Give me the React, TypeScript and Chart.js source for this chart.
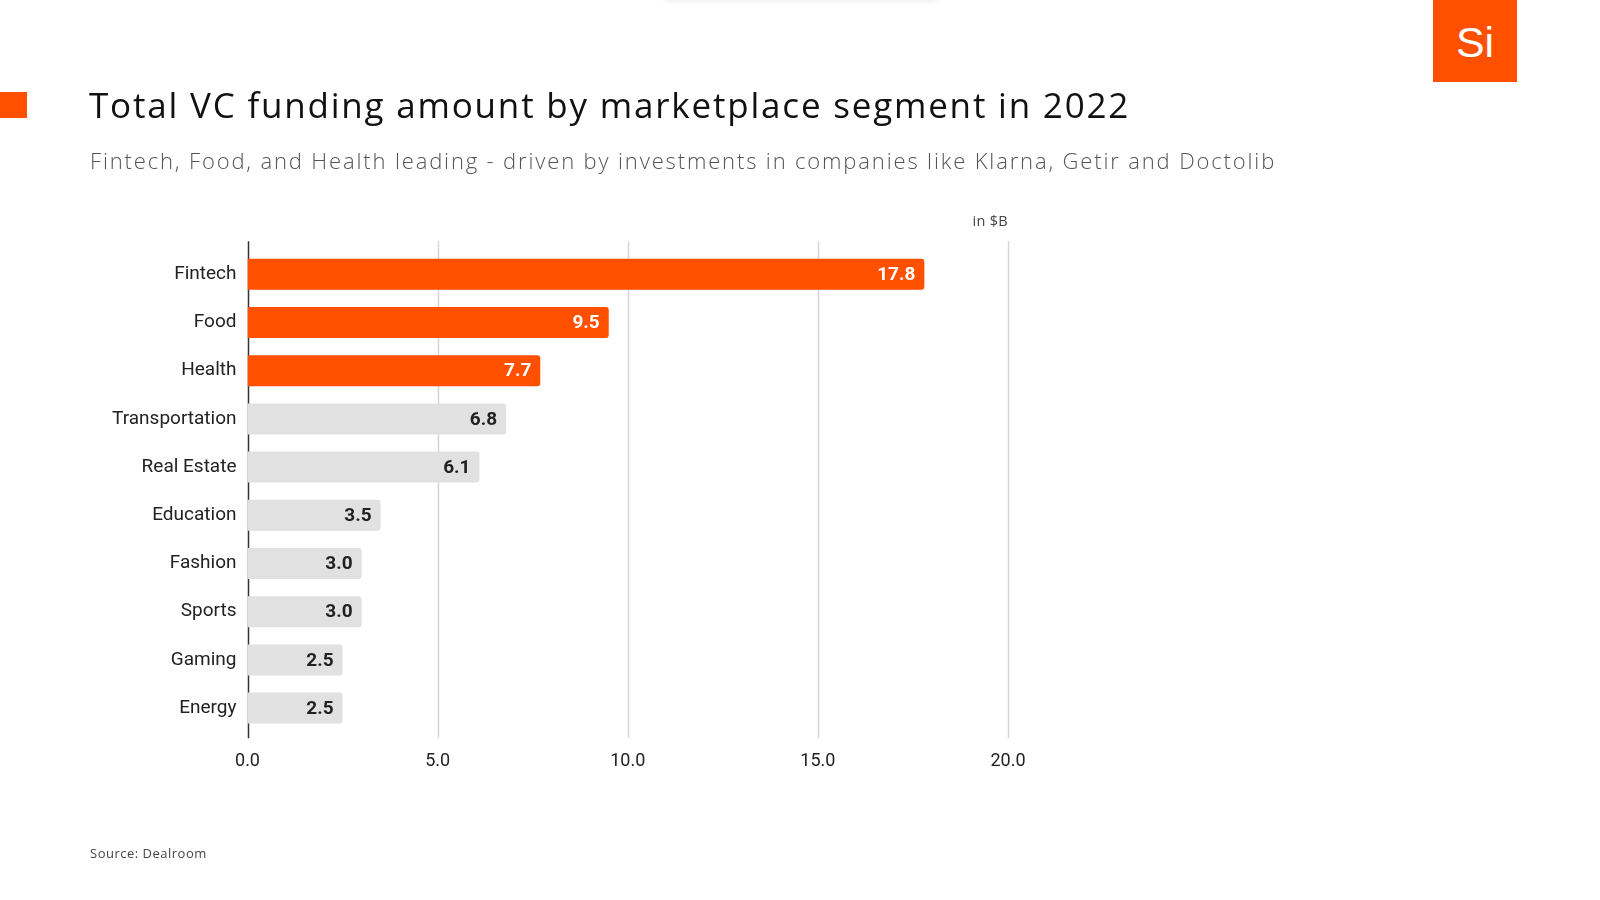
import React, { useEffect, useRef } from "react";
import { Chart, registerables } from "chart.js";

Chart.register(...registerables);

const categories = [
  "Fintech",
  "Food",
  "Health",
  "Transportation",
  "Real Estate",
  "Education",
  "Fashion",
  "Sports",
  "Gaming",
  "Energy",
];
const values = [17.8, 9.5, 7.7, 6.8, 6.1, 3.5, 3.0, 3.0, 2.5, 2.5];
const highlighted = [true, true, true, false, false, false, false, false, false, false];
const xTicks = [0, 5, 10, 15, 20];

const ORANGE = "#FF5000";
const GRAY = "#E1E1E1";

const gridPlugin = {
  id: "customGrid",
  beforeDatasetsDraw(chart: any) {
    const { ctx, chartArea, scales } = chart;
    const x = scales.x;
    const extTop = 9;
    const extBottom = 6;
    ctx.save();
    ctx.lineWidth = 1.5;
    ctx.strokeStyle = "#d6d6d6";
    xTicks.forEach((t) => {
      if (t === 0) return;
      const px = Math.round(x.getPixelForValue(t)) + 0.5;
      ctx.beginPath();
      ctx.moveTo(px, chartArea.top - extTop);
      ctx.lineTo(px, chartArea.bottom + extBottom);
      ctx.stroke();
    });
    const p0 = Math.round(x.getPixelForValue(0)) + 0.5;
    ctx.strokeStyle = "#333333";
    ctx.lineWidth = 1.5;
    ctx.beginPath();
    ctx.moveTo(p0, chartArea.top - extTop);
    ctx.lineTo(p0, chartArea.bottom + extBottom);
    ctx.stroke();
    ctx.restore();
  },
};

const labelPlugin = {
  id: "barLabels",
  afterDatasetsDraw(chart: any) {
    const { ctx } = chart;
    const meta = chart.getDatasetMeta(0);
    ctx.save();
    ctx.font = "bold 19px Roboto";
    ctx.textAlign = "right";
    ctx.textBaseline = "middle";
    meta.data.forEach((bar: any, i: number) => {
      ctx.fillStyle = highlighted[i] ? "#ffffff" : "#222222";
      ctx.fillText(values[i].toFixed(1), bar.x - 9, bar.y + 1);
    });
    ctx.restore();
  },
};

function BarChart() {
  const ref = useRef<HTMLCanvasElement>(null);
  useEffect(() => {
    if (!ref.current) return;
    const chart = new Chart(ref.current, {
      type: "bar",
      data: {
        labels: categories,
        datasets: [
          {
            data: values,
            backgroundColor: highlighted.map((h) => (h ? ORANGE : GRAY)),
            borderRadius: 3,
            borderSkipped: "start",
            barPercentage: 0.643,
            categoryPercentage: 1,
          },
        ],
      },
      options: {
        indexAxis: "y",
        animation: false,
        responsive: false,
        maintainAspectRatio: false,
        devicePixelRatio: 1,
        layout: { padding: { left: 97.5, right: 592, top: 250.2, bottom: 107.8 } },
        plugins: { legend: { display: false }, tooltip: { enabled: false } },
        scales: {
          x: {
            min: 0,
            max: 20,
            afterBuildTicks: (s: any) => {
              s.ticks = xTicks.map((v) => ({ value: v }));
            },
            afterFit: (s: any) => {
              s.height = 60;
            },
            grid: { display: false, drawTicks: false },
            border: { display: false },
            ticks: {
              padding: 18,
              color: "#222",
              font: { family: "Roboto", size: 18 },
              callback: (v: any) => Number(v).toFixed(1),
            },
          },
          y: {
            afterFit: (s: any) => {
              s.width = 150;
            },
            grid: { display: false, drawTicks: false },
            border: { display: false },
            ticks: {
              padding: 11,
              color: "#222",
              font: { family: "Roboto", size: 19 },
            },
          },
        },
      },
      plugins: [gridPlugin, labelPlugin],
    });
    return () => chart.destroy();
  }, []);
  return (
    <canvas
      ref={ref}
      width={1600}
      height={900}
      style={{ position: "absolute", left: 0, top: 0, width: 1600, height: 900 }}
    />
  );
}

export default function App() {
  return (
    <div
      style={{
        position: "fixed",
        left: 0,
        top: 0,
        width: 1600,
        height: 900,
        background: "#fff",
        overflow: "hidden",
        fontFamily: "'Open Sans', sans-serif",
      }}
    >
      <div
        style={{
          position: "absolute",
          left: 665,
          top: -6,
          width: 272,
          height: 6,
          boxShadow: "0 1px 6px rgba(0,0,0,0.08)",
        }}
      />
      <BarChart />
      <div style={{ position: "absolute", left: 0, top: 92, width: 27, height: 26, background: ORANGE }} />
      <div
        style={{
          position: "absolute",
          left: 1433,
          top: 0,
          width: 84,
          height: 82,
          background: ORANGE,
          color: "#fff",
          fontFamily: "'Liberation Sans', Arial, sans-serif",
          fontSize: 43,
          lineHeight: "84px",
          textAlign: "center",
        }}
      >
        Si
      </div>
      <div
        style={{
          position: "absolute",
          left: 89,
          top: 81,
          fontSize: 35,
          lineHeight: "48px",
          letterSpacing: 1.8,
          color: "#111",
          whiteSpace: "nowrap",
        }}
      >
        Total VC funding amount by marketplace segment in 2022
      </div>
      <div
        style={{
          position: "absolute",
          left: 90,
          top: 144,
          fontSize: 22,
          lineHeight: "32px",
          fontWeight: 300,
          letterSpacing: 1.85,
          color: "#555",
          whiteSpace: "nowrap",
        }}
      >
        Fintech, Food, and Health leading - driven by investments in companies like Klarna, Getir and Doctolib
      </div>
      <div
        style={{
          position: "absolute",
          left: 908,
          width: 100,
          top: 211,
          fontSize: 14.5,
          lineHeight: "20px",
          color: "#444",
          textAlign: "right",
          letterSpacing: 0.3,
        }}
      >
        in $B
      </div>
      <div
        style={{
          position: "absolute",
          left: 90,
          top: 844,
          fontSize: 13,
          lineHeight: "18px",
          letterSpacing: 0.5,
          color: "#444",
        }}
      >
        Source: Dealroom
      </div>
    </div>
  );
}
